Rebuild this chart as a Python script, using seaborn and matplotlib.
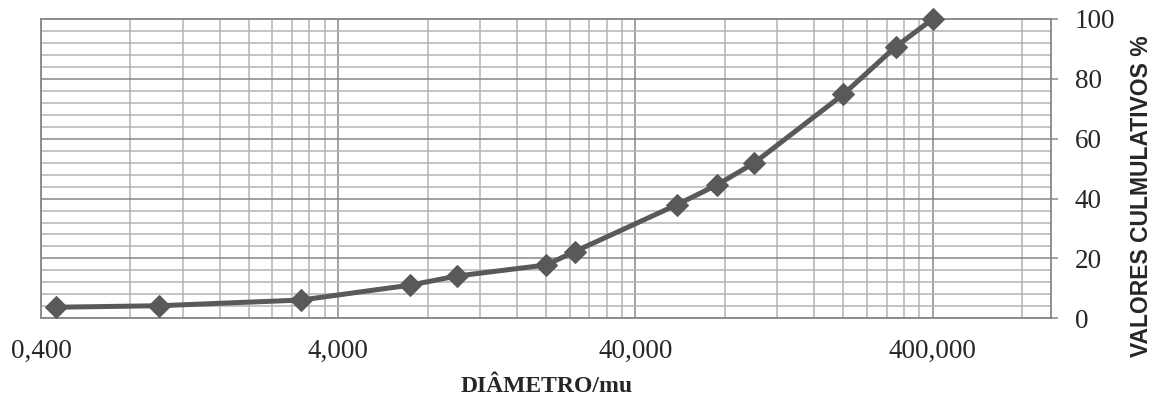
import matplotlib
matplotlib.use("Agg")
import matplotlib.pyplot as plt
import matplotlib.ticker as mticker
import seaborn as sns
import pandas as pd

# sieve curve
diametro = [0.45, 1.0, 3.0, 7.0, 10.0, 20.0, 25.0, 55.0, 75.0, 100.0, 200.0, 300.0, 400.0]
cumulativo = [3.7, 4.2, 6.1, 11.1, 14.1, 17.8, 22.3, 37.9, 44.5, 51.8, 74.8, 90.7, 100.0]
x_ticks = [0.4, 4, 40, 400]
x_tick_labels = ["0,400", "4,000", "40,000", "400,000"]
y_ticks = [0, 20, 40, 60, 80, 100]

df = pd.DataFrame({"diametro": diametro, "cumulativo": cumulativo})

sns.set_style("white")
plt.rcParams["font.family"] = ["Liberation Serif", "DejaVu Serif"]

fig = plt.figure(figsize=(11.56, 4.01), dpi=100)
ax = fig.add_axes([41 / 1156, 1 - 318.3 / 401, 1010 / 1156, 299.3 / 401])

sns.lineplot(x="diametro", y="cumulativo", data=df, ax=ax, color="#595959",
             linewidth=3.6, marker="D", markersize=11, markeredgecolor="#595959",
             zorder=5, clip_on=False)

ax.set_xscale("log")
ax.set_xlim(0.4, 1000)
ax.set_ylim(0, 100)

ax.xaxis.set_major_locator(mticker.FixedLocator(x_ticks))
ax.xaxis.set_major_formatter(mticker.FixedFormatter(x_tick_labels))
minor_x = [b * n for b in [0.4, 4, 40, 400] for n in range(2, 10) if b * n <= 1000]
ax.xaxis.set_minor_locator(mticker.FixedLocator(minor_x))
ax.xaxis.set_minor_formatter(mticker.NullFormatter())
ax.yaxis.set_major_locator(mticker.FixedLocator(y_ticks))
ax.yaxis.set_minor_locator(mticker.MultipleLocator(4))

ax.grid(True, which="major", color="#878787", linewidth=1.1)
ax.grid(True, which="minor", color="#b4b4b4", linewidth=1.1)
ax.set_axisbelow(True)

for side in ["left", "right", "top", "bottom"]:
    ax.spines[side].set_color("#878787")
    ax.spines[side].set_linewidth(1.3)

ax.yaxis.tick_right()
ax.tick_params(axis="y", which="major", length=5, width=1.1, color="#878787",
               pad=12, labelsize=19.5)
ax.tick_params(axis="y", which="minor", length=0)
ax.tick_params(axis="x", which="both", length=0, pad=15, labelsize=19.5)

ax.set_xlabel("")
ax.set_ylabel("")
fig.text(547 / 1156, 1 - 387 / 401, "DIÂMETRO/mu", ha="center", va="center",
         fontsize=17, fontweight="bold")
fig.text(1142 / 1156, 1 - 196 / 401, "VALORES CULMULATIVOS %", ha="center",
         va="center", rotation=90, fontsize=16.5, fontweight="bold",
         family=["Liberation Sans", "DejaVu Sans"])

fig.savefig("out.png", dpi=100)
plt.close(fig)
